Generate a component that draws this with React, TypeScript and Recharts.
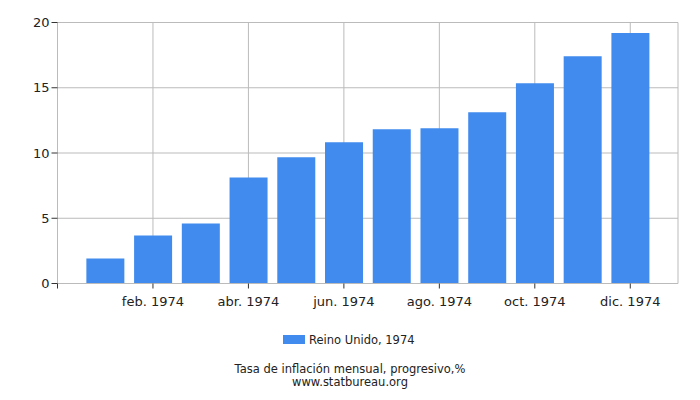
import React from "react";
import { BarChart, Bar, XAxis, YAxis, CartesianGrid } from "recharts";

const months = [
  "ene. 1974", "feb. 1974", "mar. 1974", "abr. 1974", "may. 1974", "jun. 1974",
  "jul. 1974", "ago. 1974", "sept. 1974", "oct. 1974", "nov. 1974", "dic. 1974",
];
const values = [1.92, 3.68, 4.6, 8.13, 9.67, 10.82, 11.82, 11.9, 13.12, 15.35, 17.42, 19.19];
const xTicks = [0, 2, 4, 6, 8, 10, 12];
const yTicks = [0, 5, 10, 15, 20];
const seriesName = "Reino Unido, 1974";
const titleText = "Tasa de inflación mensual, progresivo,%";
const sourceText = "www.statbureau.org";

const data = values.map((v, i) => ({ idx: i + 1, month: months[i], value: v }));

const BLUE = "#418BEE";
const FONT = "'DejaVu Sans', sans-serif";
const TEXT = "#222";

export default function App() {
  return (
    <div style={{ position: "absolute", left: 0, top: 0, width: 700, height: 400, background: "#fff", fontFamily: FONT }}>
      <BarChart
        width={700}
        height={400}
        data={data}
        margin={{ top: 22.5, right: 22, left: 0.5, bottom: 86.5 }}
      >
        <CartesianGrid yAxisId="left" stroke="#bbb" strokeWidth={1} />
        <XAxis
          dataKey="idx"
          type="number"
          domain={[0, 13]}
          ticks={xTicks}
          interval={0}
          height={30}
          tickFormatter={(v: number) => (v >= 1 && v <= 12 ? months[v - 1] : "")}
          tick={{ fill: TEXT, fontSize: 13, fontFamily: FONT }}
          tickLine={{ stroke: "#333" }}
          axisLine={{ stroke: "#bbb" }}
          tickSize={5}
          tickMargin={8}
          allowDataOverflow
        />
        <YAxis
          yAxisId="left"
          domain={[0, 20]}
          ticks={yTicks}
          width={57}
          interval={0}
          tick={{ fill: TEXT, fontSize: 13, fontFamily: FONT }}
          tickLine={{ stroke: "#333" }}
          axisLine={{ stroke: "#bbb" }}
          tickSize={6}
          tickMargin={2}
        />
        <YAxis
          yAxisId="right"
          orientation="right"
          domain={[0, 20]}
          width={0}
          tick={false}
          tickLine={false}
          axisLine={{ stroke: "#bbb" }}
        />
        <Bar
          yAxisId="left"
          dataKey="value"
          fill={BLUE}
          barSize={38}
          isAnimationActive={false}
        />
      </BarChart>
      <div style={{ position: "absolute", left: 283, top: 335, width: 22, height: 9, background: BLUE }} />
      <div style={{ position: "absolute", left: 309, top: 332, fontSize: 11.5, lineHeight: "16px", color: TEXT, whiteSpace: "nowrap" }}>
        {seriesName}
      </div>
      <div style={{ position: "absolute", left: 0, width: 700, top: 363, textAlign: "center", fontSize: 11.5, lineHeight: "13px", color: TEXT }}>
        {titleText}
      </div>
      <div style={{ position: "absolute", left: 0, width: 700, top: 376, textAlign: "center", fontSize: 11.5, lineHeight: "13px", color: TEXT }}>
        {sourceText}
      </div>
    </div>
  );
}
